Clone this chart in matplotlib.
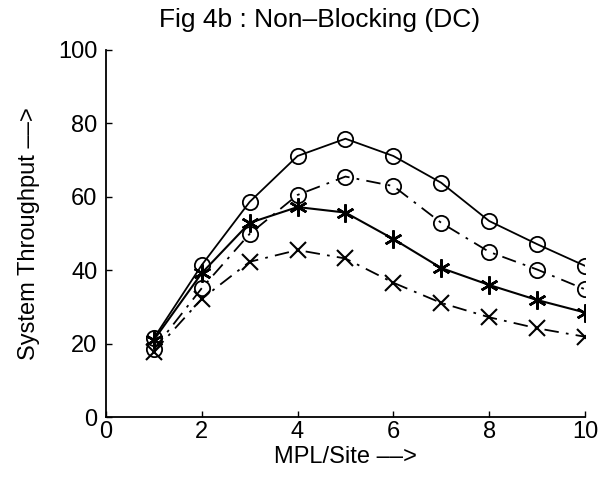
import matplotlib
matplotlib.use('Agg')
import matplotlib.pyplot as plt

plt.rcParams['font.family'] = 'Liberation Sans'
plt.rcParams['font.size'] = 17

mpl_site = [1, 2, 3, 4, 5, 6, 7, 8, 9, 10]
solid_circle = [21.5, 41.4, 58.6, 71.1, 75.8, 71.1, 63.8, 53.4, 47.1, 41.2]
dashdot_circle = [18.5, 35.1, 49.9, 60.5, 65.5, 62.9, 52.9, 45.0, 40.2, 34.8]
solid_star = [21.0, 39.2, 52.9, 57.2, 55.7, 48.5, 40.6, 36.0, 31.9, 28.5]
dashdot_x = [17.8, 32.2, 42.3, 45.5, 43.2, 36.6, 31.1, 27.2, 24.2, 21.9]

xticks = [0, 2, 4, 6, 8, 10]
yticks = [0, 20, 40, 60, 80, 100]

fig = plt.figure(figsize=(6.05, 4.79), dpi=100)
ax = fig.add_axes([0.175, 0.129, 0.792, 0.767])

dd = (8, 4, 1.5, 4)
ax.plot(mpl_site, solid_circle, color='black', lw=1.3, marker='o', ms=11,
        mfc='none', mew=1.3)
ax.plot(mpl_site, dashdot_circle, color='black', lw=1.3, marker='o', ms=11,
        mfc='none', mew=1.3, dashes=dd)
ax.plot(mpl_site, solid_star, color='black', lw=1.5, marker=(6, 2, 0), ms=13,
        mew=1.8)
ax.plot(mpl_site, dashdot_x, color='black', lw=1.3, marker='x', ms=11,
        mew=1.5, dashes=dd)

ax.set_xlim(0, 10)
ax.set_ylim(0, 100)
ax.set_xticks(xticks)
ax.set_yticks(yticks)
ax.tick_params(direction='in', length=4, width=1, labelsize=17)
ax.tick_params(axis='y', pad=6)
ax.tick_params(axis='x', pad=3)
ax.spines['top'].set_visible(False)
ax.spines['right'].set_visible(False)
for s in ['left', 'bottom']:
    ax.spines[s].set_linewidth(1.3)

ax.set_xlabel('MPL/Site \u2013\u2013>', fontsize=17, labelpad=2)
ax.set_ylabel('System Throughput \u2013\u2013>', fontsize=17, labelpad=13)
fig.text(0.529, 0.958, 'Fig 4b : Non\u2013Blocking (DC)', fontsize=19,
         ha='center', va='center')

fig.savefig('out.png', dpi=100)
